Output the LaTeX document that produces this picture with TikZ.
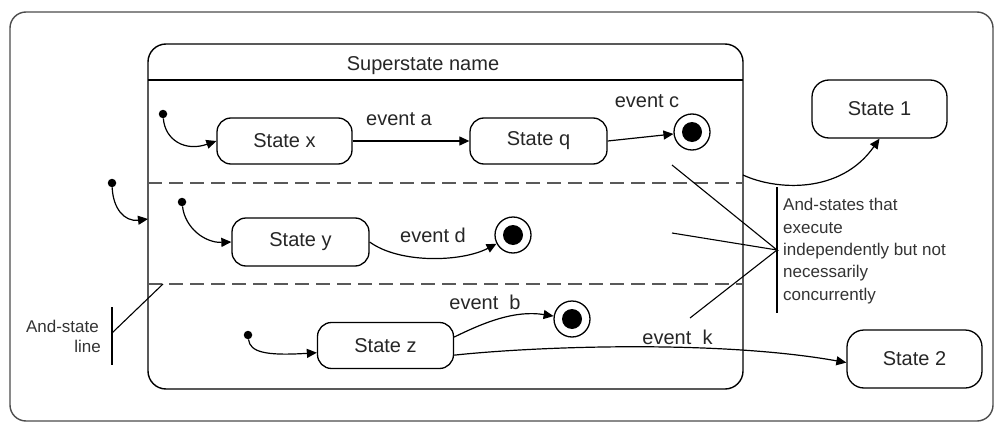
\documentclass[tikz,border=0pt]{standalone}
\usepackage{fontspec}
\setmainfont{Liberation Sans}
\usetikzlibrary{arrows.meta,calc}
\begin{document}
\begin{tikzpicture}[x=1pt,y=-1pt,
  every node/.style={font=\fontsize{20}{24}\selectfont,text=black!85},
  stbox/.style={draw,line width=1.3pt,rounded corners=14pt,inner sep=0pt},
  arr/.style={line width=1.2pt,-{Triangle[length=10pt,width=9pt]}},
  ini/.style={circle,fill=black,inner sep=0pt,minimum size=8.5pt},
  fin/.style={circle,draw,line width=1.3pt,inner sep=0pt,minimum size=36pt},
  fdot/.style={circle,fill=black,inner sep=0pt,minimum size=20pt},
  small/.style={font=\fontsize{17}{20}\selectfont,inner sep=0pt,text=black!80},
  lbl/.style={inner sep=0pt,anchor=base},
  andline/.style={line width=1.5pt,black!65,dash pattern=on 14pt off 7pt},
  thinline/.style={line width=1.1pt}
]
\useasboundingbox (0,0) rectangle (994,423);
% outer frame
\node[draw,black!70,line width=1.4pt,rounded corners=16pt,minimum width=983pt,minimum height=409pt,inner sep=0pt] (frame) at (501.5,216.5) {};
% superstate
\node[draw,line width=1.4pt,rounded corners=18pt,minimum width=595pt,minimum height=345pt,inner sep=0pt] (sup) at (445.5,216.5) {};
\draw[line width=1.2pt] (148,80) -- (743,80);
\node[lbl] (supname) at (423,70) {Superstate name};
\draw[andline] (148,183) -- (743,183);
\draw[andline] (148,284) -- (743,284);

% states
\node[stbox,minimum width=135pt,minimum height=46pt] (sx) at (284.5,141) {State x};
\node[stbox,minimum width=137pt,minimum height=46pt] (sq) at (538.5,141) {State q};
\node[stbox,minimum width=137pt,minimum height=48pt] (sy) at (300.5,242) {State y};
\node[stbox,minimum width=136pt,minimum height=46pt] (sz) at (385.5,345.5) {State z};
\node[stbox,rounded corners=17pt,minimum width=135pt,minimum height=58pt] (s1) at (879.5,109) {State 1};
\node[stbox,rounded corners=17pt,minimum width=135pt,minimum height=58pt] (s2) at (914.5,359) {State 2};

% final states
\node[fin] (fc) at (692,132) {};
\node[fdot] (fcd) at (fc) {};
\node[fin] (fd) at (513,235) {};
\node[fdot] (fdd) at (fd) {};
\node[fin] (fb) at (572,319) {};
\node[fdot] (fbd) at (fb) {};

% initial states
\node[ini] (ix) at (163,114) {};
\node[ini] (io) at (112,183) {};
\node[ini] (iy) at (182,202) {};
\node[ini] (iz) at (248,335) {};

\coordinate (supin) at (148,219);
\coordinate (supout) at (743,175);

% transitions
\draw[arr] (ix) .. controls (165,140) and (185,152) .. (sx.west);
\draw[arr] (io) .. controls (113,208) and (124,222) .. (supin);
\draw[arr] (iy) .. controls (185,228) and (205,243) .. (sy.west);
\draw[arr] (iz) .. controls (250,352) and (265,356) .. (sz.186);

\draw[arr] (sx.east) -- (sq.west);
\node[lbl] (ea) at (399,125) {event a};
\draw[arr] (sq.east) -- (fc);
\node[lbl] (ec) at (647,107) {event c};
\draw[arr] (sy.east) .. controls (400,264) and (462,262) .. (fd);
\node[lbl] (ed) at (433,242) {event d};
\draw[arr] (sz.7) .. controls (485,322) and (515,310) .. (fb);
\node[lbl] (eb) at (485,309) {event~~b};
\draw[arr] (sz.-8) .. controls (540,346) and (720,340) .. (s2.183);
\node[lbl] (ek) at (677.5,344) {event~~k};
\draw[arr] (supout) .. controls (775,190) and (840,195) .. (s1.south);

% annotation right
\coordinate (ap) at (777,250);
\coordinate (a1) at (672,165);
\coordinate (a2) at (672,233);
\coordinate (a3) at (690,318);
\draw[thinline] (777,187) -- (777,313);
\draw[thinline] (a1) -- (ap) -- (a2);
\draw[thinline] (ap) -- (a3);
\node[small,anchor=base west] (t1) at (783,210) {And-states that};
\node[small,anchor=base west] (t2) at (783,233) {execute};
\node[small,anchor=base west] (t3) at (783,255) {independently but not};
\node[small,anchor=base west] (t4) at (783,277) {necessarily};
\node[small,anchor=base west] (t5) at (783,300) {concurrently};

% annotation left
\coordinate (bp) at (112,333);
\coordinate (b1) at (163,284);
\draw[thinline] (112,307) -- (112,365);
\draw[thinline] (bp) -- (b1);
\node[small,anchor=base east] (l1) at (99,332) {And-state};
\node[small,anchor=base east] (l2) at (101,352) {line};
\end{tikzpicture}
\end{document}
